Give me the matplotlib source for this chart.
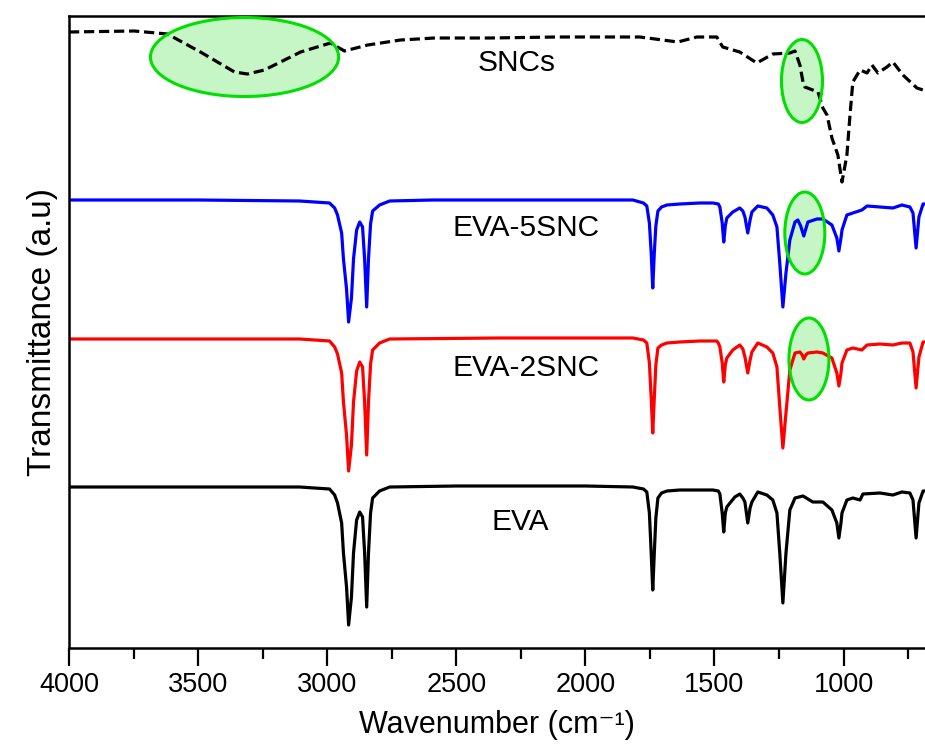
import matplotlib
matplotlib.use("Agg")
import matplotlib.pyplot as plt
from matplotlib.patches import Ellipse

plt.rcParams['font.family'] = ['Liberation Sans', 'DejaVu Sans']

# ---- spectra (wavenumber in cm-1, transmittance in arbitrary units) ----
eva_wn = [4000, 3500, 3107, 2991, 2971, 2960, 2944, 2937, 2925, 2917, 2906, 2898,
          2886, 2874, 2863, 2855, 2847, 2840, 2832, 2824, 2797, 2758, 2500, 2000,
          1816, 1775, 1762, 1752, 1745, 1739, 1733, 1727, 1719, 1705, 1684, 1634,
          1557, 1506, 1485, 1479, 1470, 1464, 1458, 1452, 1440, 1421, 1402, 1390,
          1382, 1371, 1362, 1355, 1332, 1297, 1274, 1258, 1247, 1235, 1223, 1208,
          1188, 1157, 1119, 1080, 1045, 1026, 1018, 1010, 1006, 987, 964, 936,
          925, 859, 809, 774, 743, 731, 719, 708, 692, 684]
eva_t = [161, 161, 161, 159, 153, 145, 125, 95, 61, 23, 51, 95,
         128, 136, 131, 95, 41, 95, 135, 150, 157, 161, 162, 162,
         161, 159, 156, 135, 95, 58, 95, 130, 150, 155, 157, 158,
         158, 158, 157, 154, 135, 116, 135, 141, 145, 151, 154, 150,
         146, 125, 140, 146, 156, 153, 148, 135, 95, 45, 95, 138,
         150, 152, 146, 146, 138, 125, 110, 125, 135, 148, 150, 148,
         154, 155, 153, 156, 155, 148, 110, 145, 157, 157]

eva5_wn = [4000, 3500, 3107, 2991, 2971, 2960, 2944, 2937, 2925, 2917, 2906, 2898,
           2886, 2874, 2863, 2855, 2847, 2840, 2832, 2824, 2797, 2758, 2591, 2000,
           1816, 1775, 1762, 1752, 1745, 1739, 1733, 1727, 1719, 1705, 1684, 1634,
           1557, 1506, 1485, 1479, 1470, 1464, 1458, 1452, 1429, 1402, 1390, 1382,
           1371, 1362, 1355, 1332, 1297, 1274, 1258, 1247, 1235, 1223, 1208, 1188,
           1177, 1166, 1154, 1145, 1138, 1103, 1080, 1045, 1026, 1018, 1010, 1006,
           987, 964, 929, 909, 859, 809, 774, 743, 731, 719, 708, 692, 684]
eva5_t = [448, 448, 447, 445, 440, 433, 415, 389, 359, 326, 350, 389,
          418, 426, 421, 389, 341, 389, 424, 437, 443, 447, 448, 448,
          448, 445, 442, 425, 395, 360, 395, 422, 437, 441, 443, 444,
          445, 445, 444, 441, 425, 406, 422, 430, 436, 440, 437, 431,
          415, 428, 436, 442, 440, 433, 421, 385, 341, 375, 408, 426,
          428, 422, 412, 420, 426, 429, 429, 423, 410, 397, 410, 418,
          433, 435, 438, 442, 441, 440, 443, 441, 435, 400, 431, 444, 444]

eva2_wn = [4000, 3500, 3107, 2991, 2971, 2960, 2944, 2937, 2925, 2917, 2906, 2898,
           2886, 2874, 2863, 2855, 2847, 2840, 2832, 2824, 2797, 2758, 2332, 1816,
           1775, 1762, 1752, 1745, 1739, 1733, 1727, 1719, 1705, 1684, 1634, 1557,
           1491, 1485, 1479, 1470, 1464, 1458, 1452, 1429, 1402, 1390, 1382, 1371,
           1362, 1355, 1332, 1297, 1274, 1258, 1247, 1235, 1223, 1208, 1188, 1169,
           1160, 1154, 1146, 1138, 1103, 1080, 1045, 1026, 1018, 1010, 1006, 987,
           964, 929, 909, 859, 809, 774, 743, 731, 719, 708, 692, 684]
eva2_t = [309, 309, 309, 307, 301, 294, 275, 246, 213, 177, 203, 246,
          277, 286, 281, 246, 193, 246, 284, 298, 305, 309, 310, 310,
          308, 305, 285, 250, 215, 250, 283, 300, 303, 305, 306, 307,
          307, 305, 301, 285, 266, 283, 290, 298, 303, 299, 291, 275,
          288, 296, 305, 301, 295, 281, 241, 200, 235, 278, 295, 296,
          293, 289, 293, 295, 296, 295, 290, 275, 262, 275, 285, 298,
          300, 298, 303, 304, 303, 305, 305, 296, 260, 291, 306, 306]

sncs_wn = [4000, 3747, 3619, 3491, 3359, 3309, 3243, 3103, 2987, 2933, 2843, 2716,
           2584, 2371, 2111, 1789, 1642, 1568, 1491, 1468, 1402, 1336, 1274, 1208,
           1188, 1169, 1157, 1150, 1099, 1080, 1064, 1045, 1022, 1006, 987, 975,
           964, 936, 909, 890, 867, 832, 809, 770, 716, 692, 684]
sncs_t = [616, 617, 614, 596, 576, 574, 578, 596, 605, 597, 603, 608,
          610, 610, 611, 611, 606, 611, 611, 601, 596, 585, 594, 595,
          597, 583, 566, 561, 556, 540, 533, 510, 493, 466, 493, 533,
          566, 578, 575, 583, 575, 581, 586, 573, 560, 558, 558]

spectra = [
    (eva_wn, eva_t, 'black', 'solid', 'EVA', 2254, 126),
    (eva2_wn, eva2_t, '#ff0000', 'solid', 'EVA-2SNC', 2231, 280),
    (eva5_wn, eva5_t, '#0000ff', 'solid', 'EVA-5SNC', 2231, 420),
    (sncs_wn, sncs_t, 'black', 'dashed', 'SNCs', 2266, 585),
]

# highlighted bands: (centre wn, centre y, width wn, height y)
highlights = [(3320, 591, 729, 79), (1161, 567, 159, 83),
              (1150, 415, 155, 82), (1134, 289, 155, 82)]

fig = plt.figure(figsize=(9.25, 7.53), dpi=100)
ax = fig.add_axes([69 / 925, 105 / 753, 856 / 925, 632 / 753])

for wn, t, col, ls, name, tx, ty in spectra:
    line, = ax.plot(wn, t, color=col, lw=2.3, solid_joinstyle='round', zorder=2)
    if ls == 'dashed':
        line.set_dashes((3.2, 1.5))
    ax.text(tx, ty, name, fontsize=21.5, ha='center', va='center')

# light fill under the curves, green outline on top
for cx, cy, w, h in highlights:
    ax.add_patch(Ellipse((cx, cy), w, h, facecolor='#c6f5c6',
                         edgecolor='none', zorder=1))
    ax.add_patch(Ellipse((cx, cy), w, h, facecolor='none',
                         edgecolor='#00e000', lw=2.2, zorder=3))

ax.set_xlim(4000, 684.5)
ax.set_ylim(0, 632)
ax.set_xticks([4000, 3500, 3000, 2500, 2000, 1500, 1000])
ax.set_xticks([3750, 3250, 2750, 2250, 1750, 1250, 750], minor=True)
ax.set_yticks([])
ax.tick_params(axis='x', which='major', length=13, width=1.6, labelsize=19.5, pad=4)
ax.tick_params(axis='x', which='minor', length=8, width=1.6)
for side in ['left', 'bottom', 'top']:
    ax.spines[side].set_linewidth(1.8)
ax.spines['right'].set_visible(False)

ax.set_xlabel('Wavenumber (cm⁻¹)', fontsize=22, labelpad=9)
ax.set_ylabel('Transmittance (a.u)', fontsize=24, labelpad=8)

fig.savefig('out.png', dpi=100)
